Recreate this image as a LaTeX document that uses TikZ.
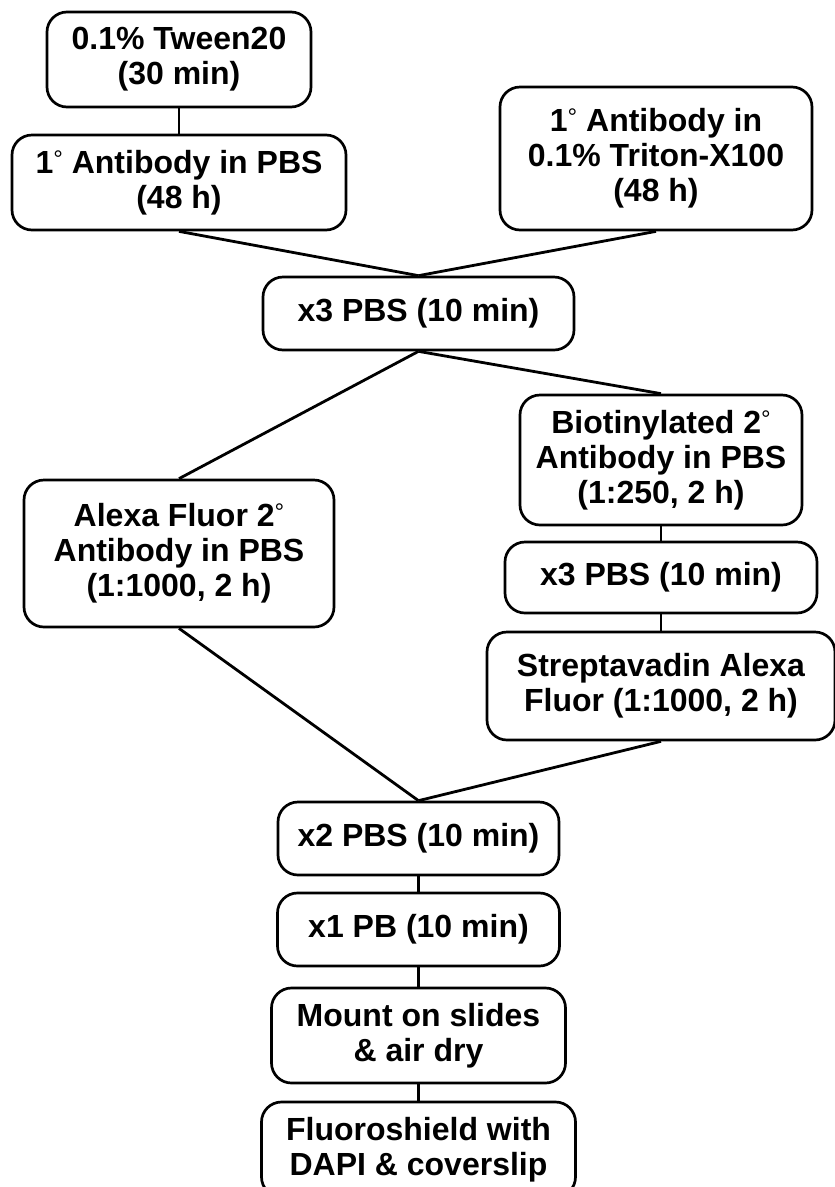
\documentclass[tikz,border=0pt]{standalone}
\usepackage{fontspec}
\setmainfont{Liberation Sans}
\newcommand{\dg}{\raisebox{6pt}{\fontsize{24}{24}\selectfont\mdseries °}}
\begin{document}
\begin{tikzpicture}[x=1pt,y=-1pt,
  stepbox/.style={draw, line width=2.7pt, rounded corners=20pt, align=center,
    inner sep=0pt, font=\fontsize{32}{35}\selectfont\bfseries},
  conn/.style={line width=2.8pt}]
\useasboundingbox (0,0) rectangle (835,1187);
\node[stepbox, minimum width=264pt, minimum height=95pt] (b1) at (179,59.5) {0.1\% Tween20\\(30 min)};
\node[stepbox, minimum width=334pt, minimum height=95pt] (b2) at (179,182.5) {1\dg{} Antibody in PBS\\(48 h)};
\node[stepbox, minimum width=312pt, minimum height=143pt] (b3) at (656,158.5) {1\dg{} Antibody in\\0.1\% Triton-X100\\(48 h)};
\node[stepbox, minimum width=311pt, minimum height=73pt] (b4) at (418.5,313.5) {x3 PBS (10 min)};
\node[stepbox, minimum width=282pt, minimum height=130pt] (b5) at (661,460) {Biotinylated 2\dg\\Antibody in PBS\\(1:250, 2 h)};
\node[stepbox, minimum width=310pt, minimum height=147pt] (b6) at (179,553.5) {Alexa Fluor 2\dg\\Antibody in PBS\\(1:1000, 2 h)};
\node[stepbox, minimum width=312pt, minimum height=71pt] (b7) at (661,577.5) {x3 PBS (10 min)};
\node[stepbox, minimum width=348pt, minimum height=108pt] (b8) at (661,686) {Streptavadin Alexa\\Fluor (1:1000, 2 h)};
\node[stepbox, minimum width=281pt, minimum height=73pt] (b9) at (418.5,838.5) {x2 PBS (10 min)};
\node[stepbox, minimum width=282pt, minimum height=73pt] (b10) at (418.5,929.5) {x1 PB (10 min)};
\node[stepbox, minimum width=294pt, minimum height=95pt] (b11) at (418.5,1035.5) {Mount on slides\\\&~air dry};
\node[stepbox, minimum width=314pt, minimum height=95pt] (b12) at (418.5,1149.5) {Fluoroshield with\\DAPI \& coverslip};
\draw[conn] (b1.south) -- (b2.north);
\draw[conn] (b2.south) -- (b4.north);
\draw[conn] (b3.south) -- (b4.north);
\draw[conn] (b4.south) -- (b6.north);
\draw[conn] (b4.south) -- (b5.north);
\draw[conn] (b5.south) -- (b7.north);
\draw[conn] (b7.south) -- (b8.north);
\draw[conn] (b6.south) -- (b9.north);
\draw[conn] (b8.south) -- (b9.north);
\draw[conn] (b9.south) -- (b10.north);
\draw[conn] (b10.south) -- (b11.north);
\draw[conn] (b11.south) -- (b12.north);
\end{tikzpicture}
\end{document}
